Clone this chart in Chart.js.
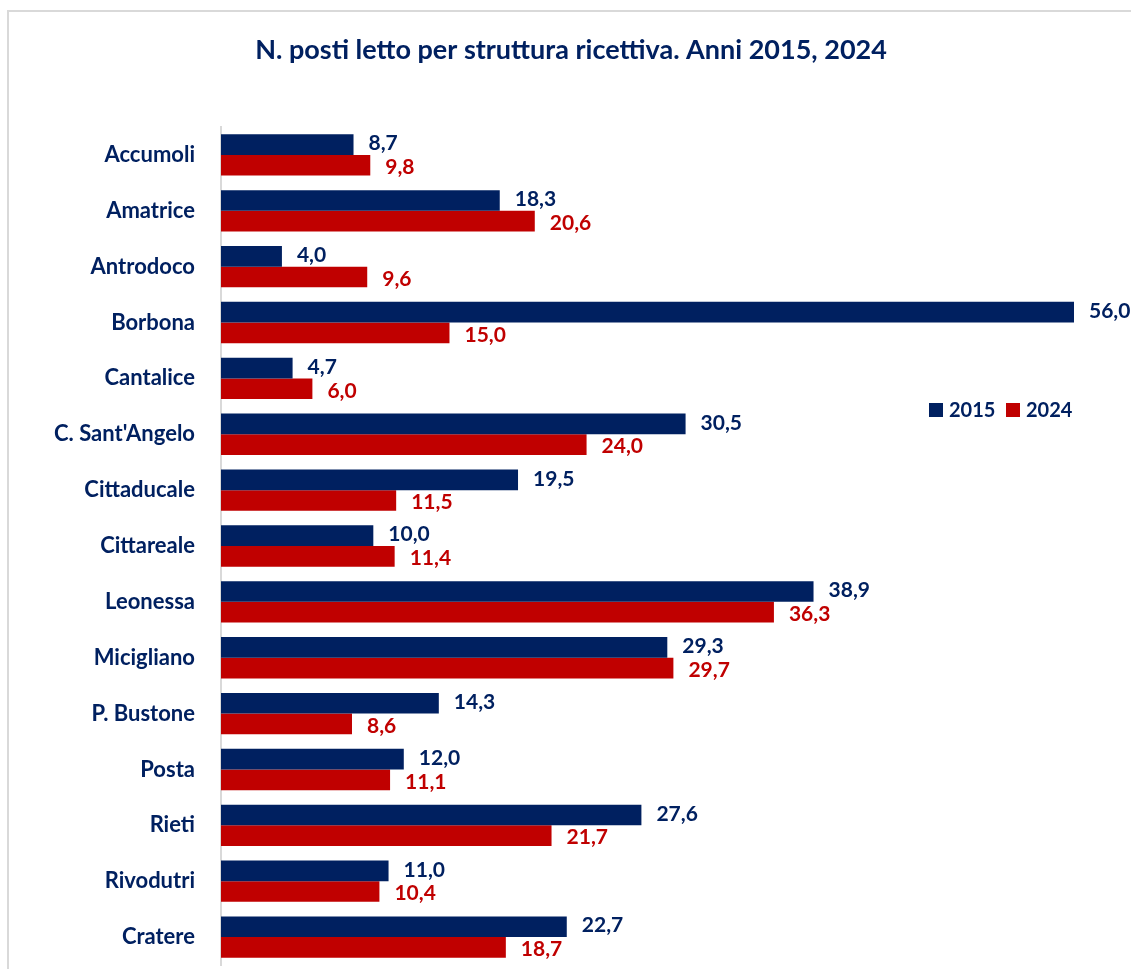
<!DOCTYPE html>
<html>
<head>
<meta charset="utf-8">
<script src="https://cdn.jsdelivr.net/npm/chart.js@4.4.1/dist/chart.umd.min.js"></script>
<style>
  html, body { margin: 0; padding: 0; background: #fff; overflow: hidden; }
  #frame { position: absolute; left: 7px; top: 10px; width: 2000px; height: 2000px; border: 2px solid #d9d9d9; }
  #wrap { position: absolute; left: 0; top: 0; width: 1131px; height: 969px; }
</style>
</head>
<body>
<div id="frame"></div>
<div id="wrap"><canvas id="chart"></canvas></div>
<script>
const titolo = 'N. posti letto per struttura ricettiva. Anni 2015, 2024';
const comuni = ['Accumoli', 'Amatrice', 'Antrodoco', 'Borbona', 'Cantalice', "C. Sant'Angelo", 'Cittaducale',
  'Cittareale', 'Leonessa', 'Micigliano', 'P. Bustone', 'Posta', 'Rieti', 'Rivodutri', 'Cratere'];
const anno2015 = [8.7, 18.3, 4.0, 56.0, 4.7, 30.5, 19.5, 10.0, 38.9, 29.3, 14.3, 12.0, 27.6, 11.0, 22.7];
const anno2024 = [9.8, 20.6, 9.6, 15.0, 6.0, 24.0, 11.5, 11.4, 36.3, 29.7, 8.6, 11.1, 21.7, 10.4, 18.7];

const NAVY = '#002060';
const RED = '#C00000';
const FONT = 'Lato, Calibri, sans-serif';

// titolo, etichette dei valori a destra delle barre, legenda
const labelsPlugin = {
  id: 'valueLabels',
  afterDatasetsDraw(chart) {
    const ctx = chart.ctx;
    ctx.save();
    ctx.textBaseline = 'middle';

    ctx.font = 'bold 27px ' + FONT;
    ctx.textAlign = 'center';
    ctx.fillStyle = NAVY;
    ctx.fillText(titolo, 571, 50);

    ctx.font = 'bold 21px ' + FONT;
    ctx.textAlign = 'left';
    chart.data.datasets.forEach((ds, i) => {
      chart.getDatasetMeta(i).data.forEach((bar, j) => {
        ctx.fillStyle = ds.backgroundColor;
        const txt = ds.data[j].toFixed(1).replace('.', ',');
        ctx.fillText(txt, bar.x + 15, bar.y + (i === 0 ? -1 : 2));
      });
    });

    ctx.font = 'bold 20px ' + FONT;
    let x = 929;
    const y = 410;
    chart.data.datasets.forEach((ds) => {
      ctx.fillStyle = ds.backgroundColor;
      ctx.fillRect(x, y - 7, 14, 14);
      ctx.fillStyle = NAVY;
      ctx.fillText(ds.label, x + 20, y + 1);
      x += 77;
    });
    ctx.restore();
  }
};

new Chart(document.getElementById('chart'), {
  type: 'bar',
  data: {
    labels: comuni,
    datasets: [
      { label: '2015', data: anno2015, backgroundColor: NAVY },
      { label: '2024', data: anno2024, backgroundColor: RED }
    ]
  },
  options: {
    indexAxis: 'y',
    responsive: true,
    maintainAspectRatio: false,
    animation: false,
    datasets: { bar: { categoryPercentage: 0.74, barPercentage: 1.0 } },
    layout: { padding: { left: 0, right: 57, top: 127, bottom: 4 } },
    plugins: {
      legend: { display: false },
      tooltip: { enabled: false },
      title: { display: false }
    },
    scales: {
      x: { display: false, min: 0, max: 56 },
      y: {
        grid: { display: false },
        border: { display: true, color: '#d9d9d9', width: 2 },
        ticks: {
          color: NAVY,
          padding: 18,
          font: { family: FONT, size: 22, weight: 'bold' }
        },
        afterFit(scale) {
          scale.width = 221;
          scale.paddingTop = 0;
          scale.paddingBottom = 0;
        }
      }
    }
  },
  plugins: [labelsPlugin]
});
</script>
</body>
</html>
